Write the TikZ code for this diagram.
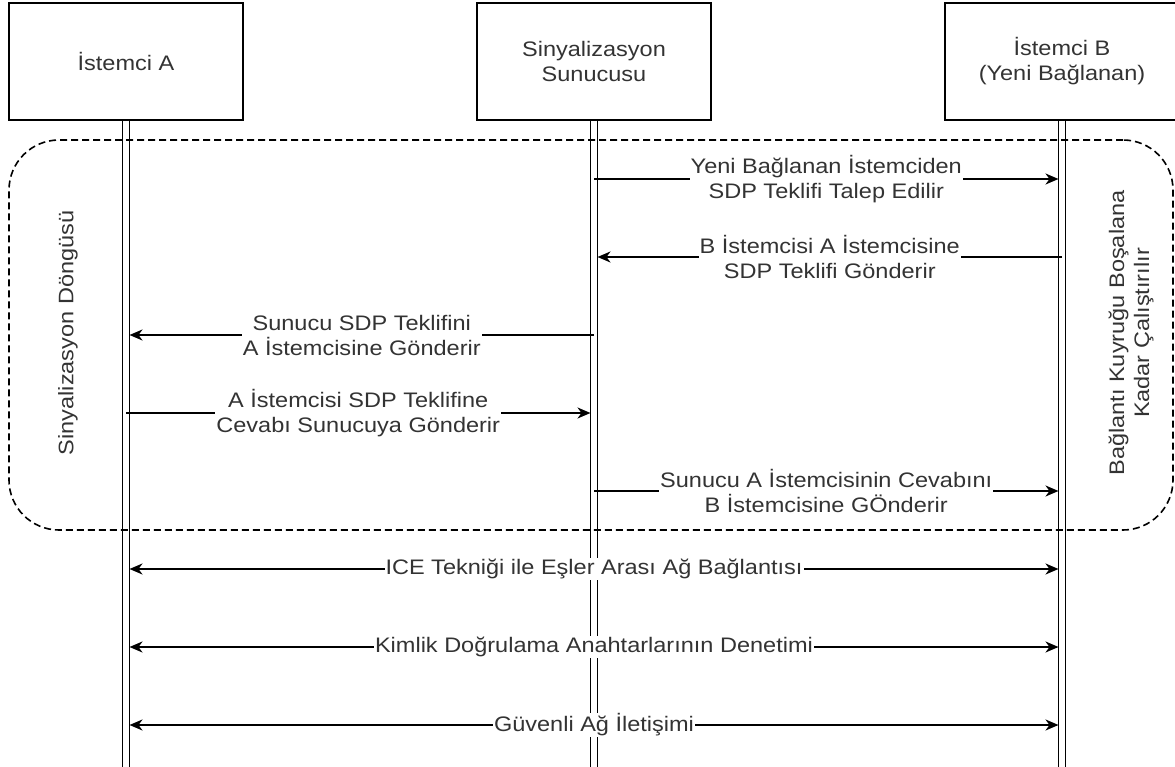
\documentclass[tikz,border=0pt]{standalone}
\usepackage{fontspec}
\setmainfont[FakeStretch=1.12]{Liberation Sans}
\usetikzlibrary{arrows.meta}
\definecolor{txt}{HTML}{333333}
\newcommand{\dfont}{\fontsize{21}{25}\selectfont}
\begin{document}
\begin{tikzpicture}[x=1pt,y=-1pt,
  actor/.style={draw, line width=1.7pt, minimum width=234pt, minimum height=117pt, text=txt, align=center, font=\dfont, inner sep=0pt},
  lifeline/.style={draw, line width=1.3pt, double, double distance=5.6pt},
  tip/.tip={Stealth[length=13pt,width=11pt,inset=4pt]},
  msg/.style={line width=1.6pt, -tip},
  bimsg/.style={line width=1.6pt, tip-tip},
  lbl/.style={fill=white, text=txt, align=center, font=\dfont, inner sep=1pt},
  loopbox/.style={draw, dash pattern=on 7pt off 4pt, line width=1.6pt, rounded corners=50pt, minimum width=1164pt, minimum height=390pt, inner sep=0pt},
  side/.style={text=txt, align=center, font=\dfont, rotate=90}
]
\useasboundingbox (0,0) rectangle (1175,767);

% actors
\node[actor] (A) at (126,61.5) {İstemci A};
\node[actor] (S) at (594,61.5) {Sinyalizasyon\\Sunucusu};
\node[actor] (B) at (1062,61.5) {İstemci B\\(Yeni Bağlanan)};

% lifeline ends
\coordinate (Abot) at (126,775);
\coordinate (Sbot) at (594,775);
\coordinate (Bbot) at (1062,775);
\draw[lifeline] (A.south) -- (Abot);
\draw[lifeline] (S.south) -- (Sbot);
\draw[lifeline] (B.south) -- (Bbot);

% loop frame
\node[loopbox] (loop) at (591,335) {};
\node[side] (loopl) at (68,333) {Sinyalizasyon Döngüsü};
\node[side] (loopr) at (1131,333) {Bağlantı Kuyruğu Boşalana\\Kadar Çalıştırılır};

% message end points
\coordinate (s1) at (594,179);    \coordinate (b1) at (1058.5,179);
\coordinate (b2) at (1062,257);   \coordinate (s2) at (597.5,257);
\coordinate (s3) at (594,335);    \coordinate (a3) at (129.5,335);
\coordinate (a4) at (126,413);    \coordinate (s4) at (590.5,413);
\coordinate (s5) at (594,491);    \coordinate (b5) at (1058.5,491);
\coordinate (a6) at (129.5,569);  \coordinate (b6) at (1058.5,569);
\coordinate (a7) at (129.5,647);  \coordinate (b7) at (1058.5,647);
\coordinate (a8) at (129.5,725);  \coordinate (b8) at (1058.5,725);

\draw[msg] (s1) -- node[lbl] (l1) {Yeni Bağlanan İstemciden\\SDP Teklifi Talep Edilir} (b1);
\draw[msg] (b2) -- node[lbl] (l2) {B İstemcisi A İstemcisine\\SDP Teklifi Gönderir} (s2);
\draw[msg] (s3) -- node[lbl] (l3) {Sunucu SDP Teklifini\\A İstemcisine Gönderir} (a3);
\draw[msg] (a4) -- node[lbl] (l4) {A İstemcisi SDP Teklifine\\Cevabı Sunucuya Gönderir} (s4);
\draw[msg] (s5) -- node[lbl] (l5) {Sunucu A İstemcisinin Cevabını\\B İstemcisine GÖnderir} (b5);

\draw[bimsg] (a6) -- node[lbl] (l6) {ICE Tekniği ile Eşler Arası Ağ Bağlantısı} (b6);
\draw[bimsg] (a7) -- node[lbl] (l7) {Kimlik Doğrulama Anahtarlarının Denetimi} (b7);
\draw[bimsg] (a8) -- node[lbl] (l8) {Güvenli Ağ İletişimi} (b8);
\end{tikzpicture}
\end{document}
